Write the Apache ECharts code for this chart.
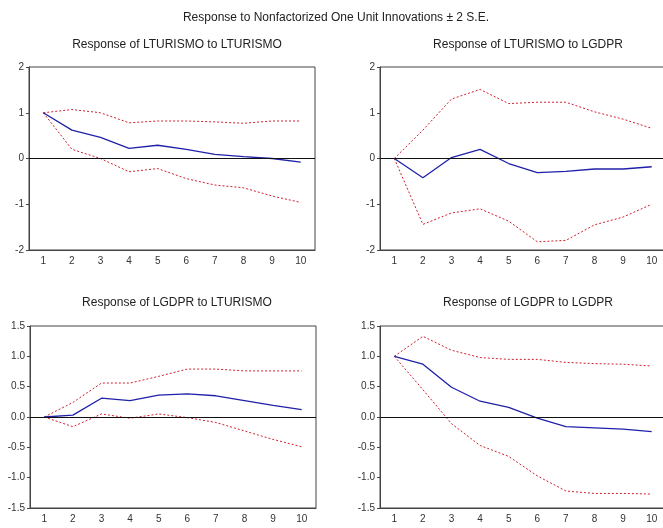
<!DOCTYPE html>
<html>
<head>
<meta charset="utf-8">
<script src="https://cdn.jsdelivr.net/npm/echarts@6/dist/echarts.min.js"></script>
<style>
  html, body { margin: 0; padding: 0; background: #fff; }
  #chart { width: 663px; height: 528px; }
</style>
</head>
<body>
<div id="chart"></div>
<script>
// periods after the shock
const periods = ['1', '2', '3', '4', '5', '6', '7', '8', '9', '10'];

// Response of LTURISMO to LTURISMO
const ttResp  = [1.0, 0.62, 0.46, 0.22, 0.29, 0.20, 0.09, 0.04, 0.0, -0.08];
const ttUpper = [1.0, 1.07, 1.0, 0.78, 0.82, 0.82, 0.80, 0.77, 0.82, 0.82];
const ttLower = [1.0, 0.20, 0.0, -0.29, -0.22, -0.44, -0.58, -0.64, -0.82, -0.96];

// Response of LTURISMO to LGDPR
const tgResp  = [0.0, -0.42, 0.02, 0.20, -0.11, -0.31, -0.28, -0.23, -0.23, -0.18];
const tgUpper = [0.0, 0.62, 1.30, 1.51, 1.20, 1.23, 1.23, 1.02, 0.86, 0.66];
const tgLower = [0.0, -1.44, -1.19, -1.10, -1.37, -1.82, -1.79, -1.45, -1.28, -1.0];

// Response of LGDPR to LTURISMO
const gtResp  = [0.0, 0.03, 0.31, 0.27, 0.36, 0.38, 0.35, 0.27, 0.19, 0.12];
const gtUpper = [0.0, 0.24, 0.56, 0.56, 0.67, 0.79, 0.79, 0.76, 0.76, 0.76];
const gtLower = [0.0, -0.16, 0.05, -0.02, 0.05, -0.01, -0.09, -0.23, -0.37, -0.49];

// Response of LGDPR to LGDPR
const ggResp  = [1.0, 0.87, 0.49, 0.26, 0.16, -0.02, -0.16, -0.18, -0.20, -0.24];
const ggUpper = [1.0, 1.33, 1.10, 0.98, 0.95, 0.95, 0.90, 0.88, 0.87, 0.84];
const ggLower = [1.0, 0.45, -0.11, -0.47, -0.65, -0.97, -1.22, -1.26, -1.26, -1.27];

const panels = [
  { title: 'Response of LTURISMO to LTURISMO', resp: ttResp, upper: ttUpper, lower: ttLower, min: -2, max: 2, step: 1, dec: 0 },
  { title: 'Response of LTURISMO to LGDPR', resp: tgResp, upper: tgUpper, lower: tgLower, min: -2, max: 2, step: 1, dec: 0 },
  { title: 'Response of LGDPR to LTURISMO', resp: gtResp, upper: gtUpper, lower: gtLower, min: -1.5, max: 1.5, step: 0.5, dec: 1 },
  { title: 'Response of LGDPR to LGDPR', resp: ggResp, upper: ggUpper, lower: ggLower, min: -1.5, max: 1.5, step: 0.5, dec: 1 }
];

// layout of the 2x2 grid (right column runs slightly past the page edge, as in the original)
const grids = [
  { left: 29, top: 67, width: 286, height: 183 },
  { left: 380, top: 67, width: 286, height: 183 },
  { left: 30, top: 326, width: 286, height: 182 },
  { left: 380, top: 326, width: 286, height: 182 }
];
const titlePos = [
  { x: 172, y: 34 },
  { x: 523, y: 34 },
  { x: 172, y: 292 },
  { x: 523, y: 292 }
];

const axisColor = '#444';
const fontFamily = 'Liberation Sans, Arial, sans-serif';
const labelStyle = { color: '#333', fontSize: 10, fontFamily: fontFamily };

const chart = echarts.init(document.getElementById('chart'));

const option = {
  backgroundColor: '#fff',
  animation: false,
  title: [{
    text: 'Response to Nonfactorized One Unit Innovations \u00b1 2 S.E.',
    left: 331, top: 7, textAlign: 'center',
    textStyle: { fontSize: 12, fontWeight: 'normal', color: '#222', fontFamily: fontFamily }
  }].concat(panels.map((p, i) => ({
    text: p.title,
    left: titlePos[i].x, top: titlePos[i].y, textAlign: 'center',
    textStyle: { fontSize: 12, fontWeight: 'normal', color: '#222', fontFamily: fontFamily }
  }))),
  grid: grids.map(g => Object.assign({
    show: true, borderColor: axisColor, borderWidth: 1, backgroundColor: 'transparent',
    containLabel: false, outerBoundsMode: 'none'
  }, g)),
  xAxis: panels.map((p, i) => ({
    type: 'category',
    gridIndex: i,
    data: periods,
    boundaryGap: true,
    axisLine: { onZero: false, lineStyle: { color: axisColor, width: 1 } },
    axisTick: { length: 3, lineStyle: { color: axisColor } },
    axisLabel: Object.assign({ margin: 6 }, labelStyle),
    splitLine: { show: false }
  })),
  yAxis: panels.map((p, i) => ({
    type: 'value',
    gridIndex: i,
    min: p.min, max: p.max, interval: p.step,
    axisLine: { show: true, lineStyle: { color: axisColor, width: 1 } },
    axisTick: { show: true, length: 3, lineStyle: { color: axisColor } },
    axisLabel: Object.assign({ margin: 5, formatter: v => v.toFixed(p.dec) }, labelStyle),
    splitLine: { show: false }
  })),
  series: []
};

panels.forEach((p, i) => {
  option.series.push({
    type: 'line', xAxisIndex: i, yAxisIndex: i, data: p.upper,
    symbol: 'none', lineStyle: { color: '#d0202e', width: 1, type: [2, 2] }, z: 3
  });
  option.series.push({
    type: 'line', xAxisIndex: i, yAxisIndex: i, data: p.lower,
    symbol: 'none', lineStyle: { color: '#d0202e', width: 1, type: [2, 2] }, z: 3
  });
  option.series.push({
    type: 'line', xAxisIndex: i, yAxisIndex: i, data: p.resp,
    symbol: 'none', lineStyle: { color: '#2020a8', width: 1.3 }, z: 4,
    markLine: {
      silent: true, symbol: 'none', label: { show: false },
      lineStyle: { color: '#111', width: 1, type: 'solid' },
      data: [{ yAxis: 0 }]
    }
  });
});

chart.setOption(option);
window.addEventListener('resize', chart.resize);
</script>
</body>
</html>
